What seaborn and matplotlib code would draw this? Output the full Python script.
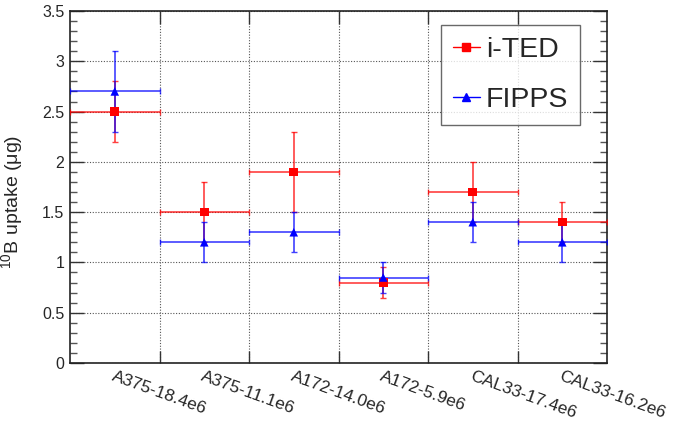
import matplotlib
matplotlib.use("Agg")
import matplotlib.pyplot as plt
import numpy as np
import pandas as pd
import seaborn as sns
from matplotlib.lines import Line2D
from matplotlib.ticker import MultipleLocator, FuncFormatter

# Samples (cell line - number of cells)
samples = ["A375-18.4e6", "A375-11.1e6", "A172-14.0e6",
           "A172-5.9e6", "CAL33-17.4e6", "CAL33-16.2e6"]

# 10B uptake in micrograms with uncertainties
ited_val = [2.5, 1.5, 1.9, 0.8, 1.7, 1.4]
ited_err = [0.3, 0.3, 0.4, 0.15, 0.3, 0.2]
fipps_val = [2.7, 1.2, 1.3, 0.85, 1.4, 1.2]
fipps_err = [0.4, 0.2, 0.2, 0.15, 0.2, 0.2]

pos = np.arange(len(samples))
df = pd.DataFrame({
    "pos": np.concatenate([pos, pos]),
    "uptake": ited_val + fipps_val,
    "err": ited_err + fipps_err,
    "detector": ["i-TED"] * len(samples) + ["FIPPS"] * len(samples),
})

sns.set_theme(style="white")
plt.rcParams["font.family"] = ["Liberation Sans", "DejaVu Sans"]
plt.rcParams["mathtext.fontset"] = "custom"
plt.rcParams["mathtext.rm"] = "Liberation Sans"

fig = plt.figure(figsize=(6.73, 4.21), dpi=100)
W, H = 673, 421
ax = fig.add_axes([70 / W, 1 - 363 / H, 537 / W, 352 / H])

colors = {"i-TED": "#ff0000", "FIPPS": "#0000ff"}
markers = {"i-TED": "s", "FIPPS": "^"}

for det in ["i-TED", "FIPPS"]:
    sub = df[df["detector"] == det]
    ax.errorbar(sub["pos"], sub["uptake"], xerr=0.5, yerr=sub["err"],
                fmt="none", ecolor=colors[det], elinewidth=1.2,
                capsize=2, capthick=1.0, alpha=0.75, zorder=3)

sns.scatterplot(data=df, x="pos", y="uptake", hue="detector", style="detector",
                palette=colors, markers=markers, s=38, linewidth=0,
                legend=False, ax=ax, zorder=4)

ax.set_xlim(-0.5, len(samples) - 0.5)
ax.set_ylim(0, 3.5)

# bin edges carry the ticks and grid, bin centres carry the names
ax.set_xticks(pos[:-1] + 0.5)
ax.set_xticklabels([])
ax.set_xticks(pos, minor=True)
ax.set_xticklabels(samples, minor=True, rotation=-20, ha="left", va="top",
                   rotation_mode="anchor", fontsize=12.5)
ax.tick_params(axis="x", which="minor", length=0, pad=4)
ax.tick_params(axis="x", which="major", direction="in", length=9,
               top=True, bottom=True, width=1, color="#333333")

ax.yaxis.set_major_locator(MultipleLocator(0.5))
ax.yaxis.set_minor_locator(MultipleLocator(0.1))
ax.yaxis.set_major_formatter(FuncFormatter(lambda v, _: f"{v:g}"))
ax.tick_params(axis="y", which="major", direction="in", length=10,
               left=True, right=True, width=1, color="#333333",
               labelsize=11.5, pad=4)
ax.tick_params(axis="y", which="minor", direction="in", length=5,
               left=True, right=True, width=1, color="#555555")
ax.set_xlabel("")

ax.grid(True, which="major", linestyle=(0, (1, 1.5)), color="#555555",
        linewidth=0.8)
ax.set_axisbelow(True)
for s in ax.spines.values():
    s.set_color("#222222")
    s.set_linewidth(1.2)

ax.set_ylabel("$^{10}$B uptake (μg)", fontsize=14)
ax.yaxis.set_label_coords(-0.082, 0.457)

handles = [Line2D([0], [0], color=colors[d], marker=markers[d], markersize=6,
                  lw=1, alpha=1) for d in ["i-TED", "FIPPS"]]
leg = ax.legend(handles, ["i-TED", "FIPPS"], loc="upper left",
                bbox_to_anchor=(441 / W, 1 - 25 / H),
                bbox_transform=fig.transFigure, fontsize=20.5,
                frameon=True, fancybox=False, shadow=False,
                handlelength=0.95, handletextpad=0.2, borderpad=0.42,
                labelspacing=0.85, borderaxespad=0)
leg.get_frame().set_edgecolor("#444444")
leg.get_frame().set_linewidth(1.0)

fig.savefig("out.png", dpi=100)
